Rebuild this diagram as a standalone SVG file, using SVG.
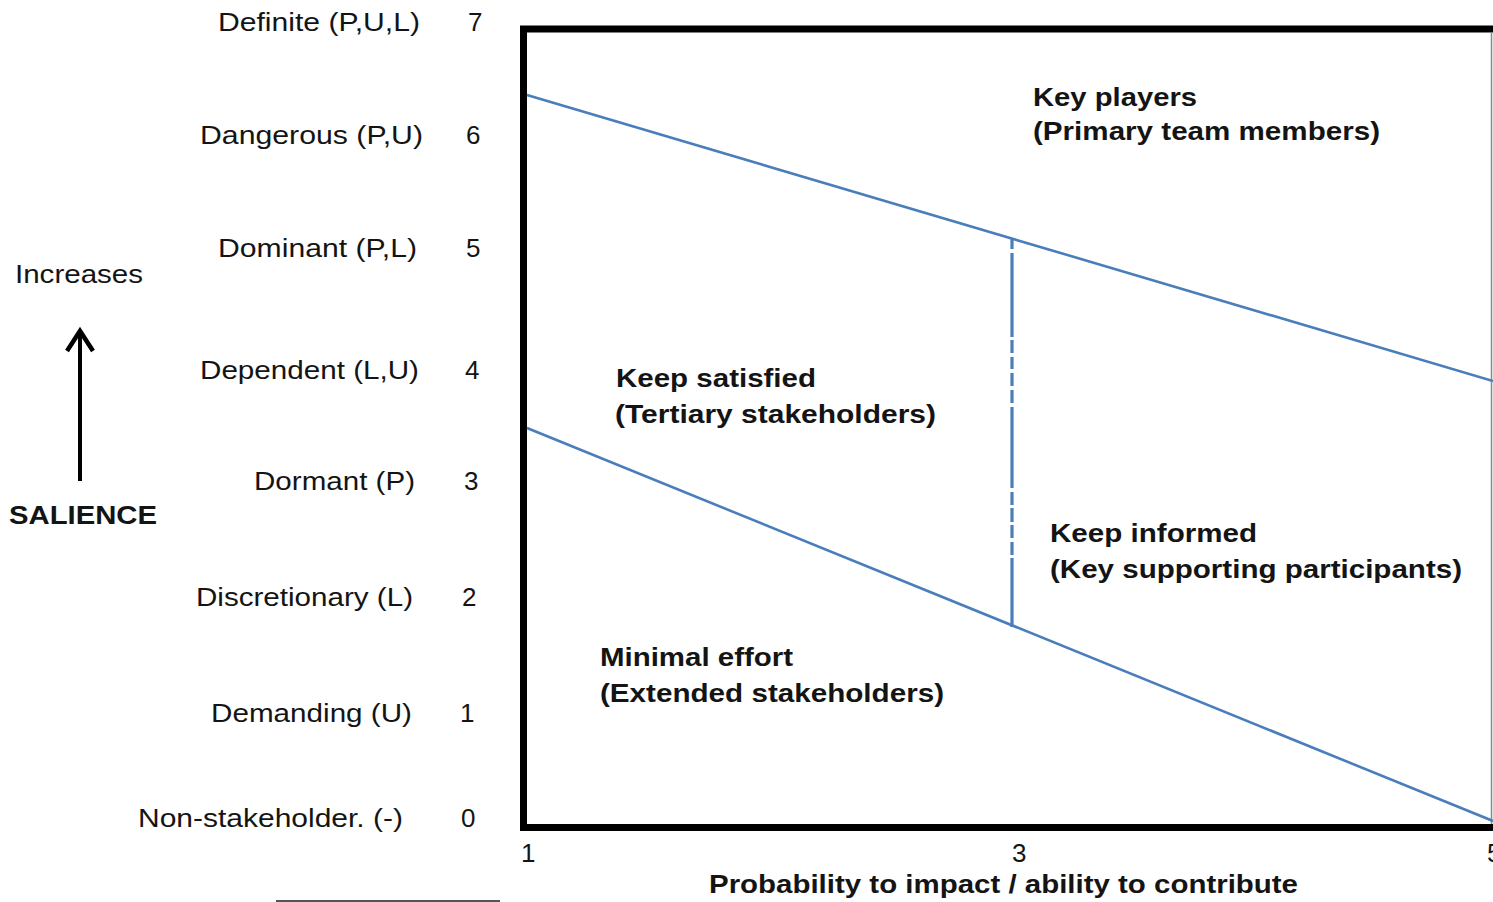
<svg xmlns="http://www.w3.org/2000/svg" width="1493" height="902" viewBox="0 0 1493 902">
<defs>
<style>
text{font-family:"Liberation Sans",Arial,sans-serif;fill:#141414;}
.lbl{font-size:26px;}
.num{font-size:26px;}
.reg{font-size:25px;font-weight:bold;}
.blue{stroke:#4a7ebb;stroke-width:2.6;fill:none;}
</style>
<marker id="ah" viewBox="0 0 20 20" refX="10" refY="3" markerWidth="20" markerHeight="20" markerUnits="userSpaceOnUse" orient="auto-start-reverse">
</marker>
</defs>
<rect width="1493" height="902" fill="#fff"/>
<g id="axis-labels">
<text class="lbl" x="218" y="31" textLength="202" lengthAdjust="spacingAndGlyphs">Definite (P,U,L)</text>
<text class="lbl" x="200" y="144" textLength="223" lengthAdjust="spacingAndGlyphs">Dangerous (P,U)</text>
<text class="lbl" x="218" y="257" textLength="199" lengthAdjust="spacingAndGlyphs">Dominant (P,L)</text>
<text class="lbl" x="200" y="379" textLength="219" lengthAdjust="spacingAndGlyphs">Dependent (L,U)</text>
<text class="lbl" x="254" y="490" textLength="161" lengthAdjust="spacingAndGlyphs">Dormant (P)</text>
<text class="lbl" x="196" y="606" textLength="217" lengthAdjust="spacingAndGlyphs">Discretionary (L)</text>
<text class="lbl" x="211" y="722" textLength="201" lengthAdjust="spacingAndGlyphs">Demanding (U)</text>
<text class="lbl" x="138" y="827" textLength="265" lengthAdjust="spacingAndGlyphs">Non-stakeholder. (-)</text>
<text class="num" x="468" y="31">7</text>
<text class="num" x="466" y="144">6</text>
<text class="num" x="466" y="257">5</text>
<text class="num" x="465" y="379">4</text>
<text class="num" x="464" y="490">3</text>
<text class="num" x="462" y="606">2</text>
<text class="num" x="460" y="722">1</text>
<text class="num" x="461" y="827">0</text>
</g>
<g id="salience">
<text class="lbl" x="15" y="283" textLength="128" lengthAdjust="spacingAndGlyphs">Increases</text>
<line x1="80" y1="481" x2="80" y2="331" stroke="#000" stroke-width="4"/>
<polyline points="67,351 80,331 93,351" fill="none" stroke="#000" stroke-width="4.5" stroke-linejoin="miter"/>
<text x="9" y="524" style="font-size:26px;font-weight:bold" textLength="148" lengthAdjust="spacingAndGlyphs">SALIENCE</text>
</g>
<g id="frame">
<rect x="523.5" y="29" width="980" height="798.5" fill="none" stroke="#000" stroke-width="7"/>
<line x1="1491.5" y1="33" x2="1491.5" y2="824" stroke="#888" stroke-width="1.5"/>
</g>
<g id="connectors">
<line class="blue" x1="527" y1="95" x2="1493" y2="381"/>
<line class="blue" x1="527" y1="428" x2="1493" y2="821"/>
<path d="M1012,239V249M1012,253V337M1012,340V353M1012,357V369M1012,373V386M1012,390V403M1012,407V488M1012,492V505M1012,508V522M1012,525V538M1012,542V555M1012,558V627" stroke="#4a7ebb" stroke-width="3.2" fill="none"/>
</g>
<g id="key-players">
<text class="reg" x="1033" y="106" textLength="164" lengthAdjust="spacingAndGlyphs">Key players</text>
<text class="reg" x="1033" y="140" textLength="347" lengthAdjust="spacingAndGlyphs">(Primary team members)</text>
</g>
<g id="keep-satisfied">
<text class="reg" x="616" y="387" textLength="200" lengthAdjust="spacingAndGlyphs">Keep satisfied</text>
<text class="reg" x="615" y="423" textLength="321" lengthAdjust="spacingAndGlyphs">(Tertiary stakeholders)</text>
</g>
<g id="keep-informed">
<text class="reg" x="1050" y="542" textLength="207" lengthAdjust="spacingAndGlyphs">Keep informed</text>
<text class="reg" x="1050" y="578" textLength="412" lengthAdjust="spacingAndGlyphs">(Key supporting participants)</text>
</g>
<g id="minimal-effort">
<text class="reg" x="600" y="666" textLength="193" lengthAdjust="spacingAndGlyphs">Minimal effort</text>
<text class="reg" x="600" y="702" textLength="344" lengthAdjust="spacingAndGlyphs">(Extended stakeholders)</text>
</g>
<g id="x-axis">
<text class="num" x="521" y="862">1</text>
<text class="num" x="1012" y="862">3</text>
<text class="num" x="1487" y="862">5</text>
<text class="reg" x="709" y="893" textLength="589" lengthAdjust="spacingAndGlyphs">Probability to impact / ability to contribute</text>
<line x1="276" y1="901" x2="500" y2="901" stroke="#555" stroke-width="2"/>
</g>
</svg>
